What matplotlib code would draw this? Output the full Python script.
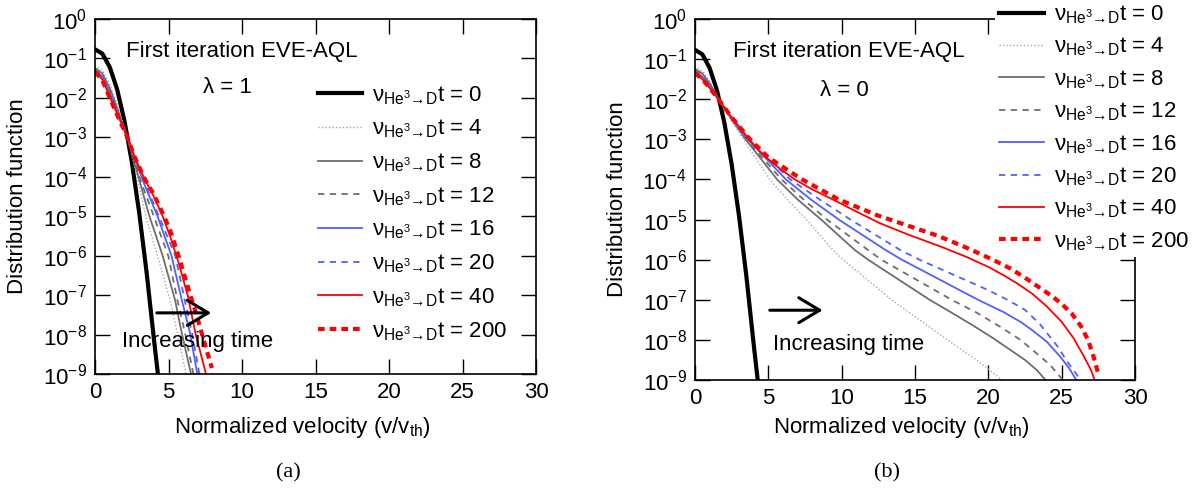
import numpy as np
import matplotlib
matplotlib.use('Agg')
import matplotlib.pyplot as plt
from matplotlib.ticker import LogLocator, NullLocator, MultipleLocator

plt.rcParams['font.family'] = ['Liberation Sans', 'DejaVu Sans']
plt.rcParams['mathtext.fontset'] = 'custom'
plt.rcParams['mathtext.rm'] = 'Liberation Sans'
plt.rcParams['mathtext.it'] = 'Liberation Sans'
plt.rcParams['mathtext.bf'] = 'Liberation Sans:bold'
plt.rcParams['axes.unicode_minus'] = False

# nu_{He3->D} t values of the curves
times = [0, 4, 8, 12, 16, 20, 40, 200]

# log10 of the distribution function
# t = 0 (same initial Maxwellian in both panels)
v_t0 = [0, 0.5, 1.0, 1.5, 2.0, 2.5, 3.0, 3.5, 4.0, 4.4]
lg_t0 = [-0.77, -0.88, -1.22, -1.78, -2.58, -3.62, -4.9, -6.4, -8.1, -9.4]

# panel (a), lambda = 1
v_a4 = [0, 0.5, 1, 1.5, 2.2, 2.85, 3.45, 4.25, 5.1, 5.6, 6.19, 6.4]
lg_a4 = [-1.17, -1.3, -1.65, -2.15, -3.0, -4.0, -5.0, -6.0, -7.12, -7.96, -9.0, -9.4]
v_a8 = [0, 0.5, 1, 1.5, 2.2, 2.95, 3.7, 4.6, 5.44, 5.9, 6.53, 6.7]
lg_a8 = [-1.24, -1.38, -1.75, -2.25, -3.0, -4.0, -5.0, -6.0, -7.12, -7.96, -9.0, -9.3]
v_a12 = [0, 0.5, 1, 1.5, 2.2, 3.0, 4.0, 4.98, 5.6, 6.12, 6.69, 6.85]
lg_a12 = [-1.27, -1.42, -1.8, -2.3, -3.0, -4.0, -5.0, -6.0, -7.12, -7.96, -9.0, -9.3]
v_a16 = [0, 0.5, 1, 1.5, 2.2, 3.15, 4.25, 5.2, 5.9, 6.46, 6.96, 7.1]
lg_a16 = [-1.3, -1.46, -1.87, -2.35, -3.0, -4.0, -5.0, -6.0, -7.12, -7.96, -9.0, -9.3]
v_a20 = [0, 0.5, 1, 1.5, 2.2, 3.2, 4.35, 5.46, 6.1, 6.6, 7.1, 7.25]
lg_a20 = [-1.31, -1.48, -1.9, -2.37, -3.0, -4.0, -5.0, -6.0, -7.12, -7.96, -9.0, -9.3]
v_a40 = [0, 0.5, 1, 1.5, 2.2, 2.7, 3.3, 4.0, 4.6, 5.1, 5.7, 6.3, 6.85, 7.55, 7.7]
lg_a40 = [-1.34, -1.53, -1.97, -2.4, -3.0, -3.5, -4.0, -4.5, -5.0, -5.5, -6.2, -7.0, -8.0, -9.0, -9.3]
v_a200 = [0, 0.5, 1, 1.5, 2.2, 2.7, 3.3, 4.0, 4.7, 5.2, 5.8, 6.4, 6.9, 7.4, 7.95]
lg_a200 = [-1.34, -1.55, -2.0, -2.43, -3.0, -3.5, -4.0, -4.45, -5.0, -5.45, -6.15, -6.9, -7.5, -8.15, -8.85]

# panel (b), lambda = 0
v_b4 = [0, 0.5, 1, 1.6, 2.5, 3.3, 5.1, 6.3, 7.6, 9.3, 10.1, 13.4, 15.5, 17.4, 19.2, 20.8, 21.0]
lg_b4 = [-1.17, -1.3, -1.55, -2.0, -2.55, -3.0, -4.0, -4.5, -5.0, -5.72, -6.0, -7.0, -7.55, -8.05, -8.5, -8.96, -9.0]
v_b8 = [0, 0.5, 1, 1.6, 2.5, 3.45, 5.6, 7.0, 8.6, 10.9, 11.8, 16.0, 17.4, 19.0, 20.3, 21.5, 22.5, 23.3, 23.9]
lg_b8 = [-1.24, -1.36, -1.6, -2.0, -2.5, -3.0, -4.0, -4.5, -5.0, -5.76, -6.0, -7.0, -7.3, -7.65, -7.95, -8.25, -8.5, -8.75, -9.0]
v_b12 = [0, 0.5, 1, 1.6, 2.5, 3.5, 5.9, 7.4, 9.0, 11.8, 12.7, 17.5, 19.2, 20.8, 22.2, 23.3, 24.2, 24.9, 25.1]
lg_b12 = [-1.27, -1.4, -1.63, -2.0, -2.49, -3.0, -4.0, -4.5, -5.0, -5.76, -6.0, -7.0, -7.32, -7.67, -8.0, -8.34, -8.62, -8.92, -9.0]
v_b16 = [0, 0.5, 1, 1.6, 2.5, 3.6, 6.2, 7.9, 9.8, 13.0, 14.1, 19.3, 21.0, 22.2, 23.0, 24.0, 24.9, 25.5, 26.0]
lg_b16 = [-1.3, -1.44, -1.67, -2.0, -2.48, -3.0, -4.0, -4.5, -5.0, -5.76, -6.0, -7.0, -7.3, -7.55, -7.76, -8.05, -8.42, -8.7, -9.0]
v_b20 = [0, 0.5, 1, 1.6, 2.5, 3.6, 6.5, 8.5, 10.6, 14.0, 15.3, 20.0, 21.3, 22.5, 23.5, 24.2, 24.8, 25.3, 25.8, 26.3]
lg_b20 = [-1.31, -1.45, -1.68, -2.0, -2.47, -3.0, -4.0, -4.5, -5.0, -5.76, -6.0, -6.76, -7.0, -7.25, -7.6, -7.92, -8.2, -8.5, -8.75, -9.0]
v_b40 = [0, 0.5, 1, 1.6, 2.5, 3.7, 4.55, 5.5, 6.8, 8.0, 9.4, 11.0, 12.6, 14.5, 16.8, 18.5, 20.0,
         21.0, 22.0, 23.0, 24.0, 25.0, 25.8, 26.5, 27.0, 27.3]
lg_b40 = [-1.34, -1.5, -1.72, -2.0, -2.45, -3.0, -3.35, -3.65, -4.0, -4.25, -4.5, -4.8, -5.09, -5.37, -5.68, -5.93, -6.18,
          -6.38, -6.6, -6.85, -7.17, -7.55, -7.95, -8.4, -8.75, -9.05]
v_b200 = [0, 0.5, 1, 1.6, 2.5, 3.75, 5.0, 7.3, 9.8, 12.4, 14.5, 16.6, 18.5, 20.3, 21.5, 22.5, 23.5, 24.3,
          25.0, 25.7, 26.3, 26.8, 27.2, 27.5]
lg_b200 = [-1.35, -1.5, -1.72, -2.0, -2.45, -3.0, -3.45, -4.0, -4.5, -4.89, -5.15, -5.41, -5.7, -6.0, -6.22, -6.45, -6.7, -6.9,
           -7.1, -7.35, -7.65, -8.0, -8.45, -8.85]

curves_a = [(v_t0, lg_t0), (v_a4, lg_a4), (v_a8, lg_a8), (v_a12, lg_a12),
            (v_a16, lg_a16), (v_a20, lg_a20), (v_a40, lg_a40), (v_a200, lg_a200)]
curves_b = [(v_t0, lg_t0), (v_b4, lg_b4), (v_b8, lg_b8), (v_b12, lg_b12),
            (v_b16, lg_b16), (v_b20, lg_b20), (v_b40, lg_b40), (v_b200, lg_b200)]

# line styles, one per time
styles = [
    dict(color='black', lw=3.0, ls='-'),
    dict(color='#a8a8a8', lw=1.0, ls=(0, (1, 1.5))),
    dict(color='#6e6e6e', lw=1.3, ls='-'),
    dict(color='#6e6e6e', lw=1.3, ls=(0, (3.5, 3))),
    dict(color='#5060ff', lw=1.3, ls='-'),
    dict(color='#5060ff', lw=1.3, ls=(0, (3.5, 3))),
    dict(color='#ff0000', lw=1.3, ls='-'),
    dict(color='#ff0000', lw=3.0, ls=(0, (1.6, 1.2))),
]
labels = [r'$\nu_{\mathrm{He}^{3}\mathrm{→D}}$t = %d' % t for t in times]

fig = plt.figure(figsize=(11.97, 4.92), dpi=100)
ax1 = fig.add_axes([0.0794, 0.2398, 0.3684, 0.7216])
ax2 = fig.add_axes([0.5806, 0.2276, 0.3676, 0.7338])


def setup(ax, xlab_y):
    ax.set_yscale('log')
    ax.set_xlim(0, 30)
    ax.set_ylim(1e-9, 1)
    ax.xaxis.set_major_locator(MultipleLocator(5))
    ax.yaxis.set_major_locator(LogLocator(base=10, numticks=15))
    ax.yaxis.set_minor_locator(NullLocator())
    ax.tick_params(direction='in', length=10.5, width=1.0, top=True, right=True,
                   labelsize=16, pad=6)
    for s in ax.spines.values():
        s.set_linewidth(1.2)
    ax.set_xlabel(r'Normalized velocity (v/v$_{\mathrm{th}}$)', fontsize=16)
    ax.set_ylabel('Distribution function', fontsize=16)
    ax.xaxis.set_label_coords(0.47, xlab_y)
    ax.yaxis.set_label_coords(-0.152, 0.5)


for ax, curves, xy in ((ax1, curves_a, -0.115), (ax2, curves_b, -0.097)):
    setup(ax, xy)
    for (v, lg), st, lab in zip(curves, styles, labels):
        ax.plot(v, 10.0 ** np.array(lg), label=lab, **st)

# annotations
ax1.text(2.1, 10 ** -0.963, 'First iteration EVE-AQL', fontsize=16, va='baseline')
ax1.text(7.35, 10 ** -1.88, 'λ = 1', fontsize=16, va='baseline')
ax1.text(1.84, 10 ** -8.31, 'Increasing time', fontsize=16, va='baseline')
ax2.text(2.6, 10 ** -0.948, 'First iteration EVE-AQL', fontsize=16, va='baseline')
ax2.text(8.5, 10 ** -1.92, 'λ = 0', fontsize=16, va='baseline')
ax2.text(5.3, 10 ** -8.24, 'Increasing time', fontsize=16, va='baseline')

arrow = dict(arrowstyle='->,head_length=1.5,head_width=0.9', lw=2.2, color='black',
             shrinkA=0, shrinkB=0, mutation_scale=10)
ax1.annotate('', xy=(7.9, 10 ** -7.45), xytext=(4.2, 10 ** -7.45), arrowprops=arrow)
ax2.annotate('', xy=(8.7, 10 ** -7.26), xytext=(5.1, 10 ** -7.26), arrowprops=arrow)

leg1 = ax1.legend(loc='upper left', bbox_to_anchor=(318 / 1197, 1 - 84 / 492),
                  bbox_transform=fig.transFigure, frameon=False, fontsize=16,
                  handlelength=2.0, handletextpad=0.45, labelspacing=0.5,
                  borderpad=0, borderaxespad=0)
leg2 = ax2.legend(loc='upper left', bbox_to_anchor=(995 / 1197, 1 + 1 / 492),
                  bbox_transform=fig.transFigure, frameon=True, fancybox=False,
                  facecolor='white', edgecolor='none', framealpha=1, fontsize=16,
                  handlelength=2.0, handletextpad=0.45, labelspacing=0.44,
                  borderpad=0.2, borderaxespad=0)

fig.text(288 / 1197, 1 - 473 / 492, '(a)', ha='center', va='center',
         family='Liberation Serif', fontsize=16)
fig.text(887 / 1197, 1 - 473 / 492, '(b)', ha='center', va='center',
         family='Liberation Serif', fontsize=16)

fig.savefig('out.png', dpi=100)
